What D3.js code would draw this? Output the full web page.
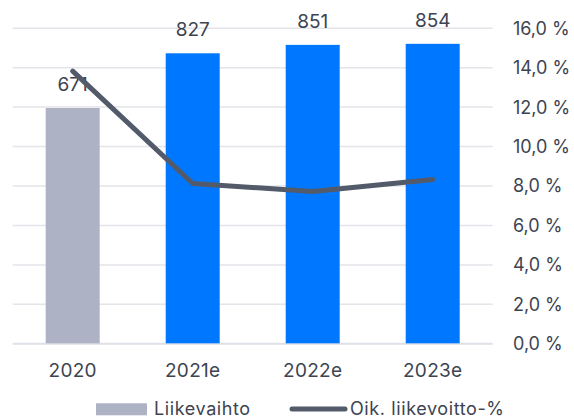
<!DOCTYPE html>
<html>
<head>
<meta charset="utf-8">
<script src="https://cdn.jsdelivr.net/npm/d3@7"></script>
<style>
  body { margin: 0; background: #fff; }
  text { font-family: Inter, Lato, sans-serif; fill: #3d4350; }
</style>
</head>
<body>
<script>
var w = 574; // width of SVG space
var h = 418; // height of SVG space

// chart data
var years = ["2020", "2021e", "2022e", "2023e"];
var revenue = [671, 827, 851, 854]; // Liikevaihto, bars
var margin = [13.8, 8.1, 7.7, 8.3]; // Oik. liikevoitto-%, line
var pctTicks = [0, 2, 4, 6, 8, 10, 12, 14, 16];
var barColors = ["#adb3c4", "#0077ff", "#0077ff", "#0077ff"];

var svg = d3.select("body").append("svg").attr("width", w).attr("height", h);

var x = d3.scaleBand().domain(years).range([12.7, 492.7]).paddingInner(0.55).paddingOuter(0.275);
var yBar = d3.scaleLinear().domain([0, 900]).range([343.3, 27.7]);
var yPct = d3.scaleLinear().domain([0, 16]).range([343.3, 27.7]);

// gridlines + right axis labels
var yAxis = d3.axisRight(yPct).tickValues(pctTicks)
    .tickSize(480)
    .tickFormat(function (d) { return d.toFixed(1).replace(".", ",") + " %"; });

var ax = svg.append("g").attr("transform", "translate(12.7,0)").call(yAxis);
ax.select(".domain").remove();
ax.selectAll(".tick line").attr("stroke", function (d) { return d === 0 ? "#dde1e7" : "#e4e4ea"; })
    .attr("stroke-width", function (d) { return d === 0 ? 2 : 1.5; });
ax.selectAll(".tick text").attr("x", 500.3).attr("dy", "0.36em")
    .style("font-size", "18px").attr("fill", "#3d4350");

// bars
svg.selectAll("rect.bar").data(revenue).enter().append("rect")
    .attr("class", "bar")
    .attr("x", function (d, i) { return x(years[i]); })
    .attr("y", function (d) { return yBar(d); })
    .attr("width", x.bandwidth())
    .attr("height", function (d) { return yBar(0) - yBar(d); })
    .style("fill", function (d, i) { return barColors[i]; });

// bar value labels
svg.selectAll("text.val").data(revenue).enter().append("text")
    .attr("class", "val")
    .attr("x", function (d, i) { return x(years[i]) + x.bandwidth() / 2; })
    .attr("y", function (d) { return yBar(d) - 17; })
    .attr("text-anchor", "middle")
    .style("font-size", "19px")
    .text(function (d) { return d; });

// line
var line = d3.line()
    .x(function (d, i) { return x(years[i]) + x.bandwidth() / 2; })
    .y(function (d) { return yPct(d); });

svg.append("path").datum(margin)
    .attr("d", line)
    .attr("fill", "none")
    .attr("stroke", "#535b6b")
    .attr("stroke-width", 5)
    .attr("stroke-linecap", "round")
    .attr("stroke-linejoin", "round");

// x labels
svg.selectAll("text.xl").data(years).enter().append("text")
    .attr("class", "xl")
    .attr("x", function (d) { return x(d) + x.bandwidth() / 2; })
    .attr("y", 376.7)
    .attr("text-anchor", "middle")
    .style("font-size", "19px")
    .style("letter-spacing", "0.3px")
    .text(function (d) { return d; });

// legend
var lg = svg.append("g");
lg.append("rect").attr("x", 96).attr("y", 403.3).attr("width", 51).attr("height", 12).style("fill", "#adb3c4");
lg.append("text").attr("x", 154).attr("y", 414.5).style("font-size", "18px").style("letter-spacing", "0.6px").text("Liikevaihto");
lg.append("line").attr("x1", 292).attr("x2", 345).attr("y1", 409).attr("y2", 409)
    .attr("stroke", "#535b6b").attr("stroke-width", 5).attr("stroke-linecap", "round");
lg.append("text").attr("x", 350).attr("y", 414.5).style("font-size", "18px").style("letter-spacing", "0.6px").text("Oik. liikevoitto-%");
</script>
</body>
</html>
